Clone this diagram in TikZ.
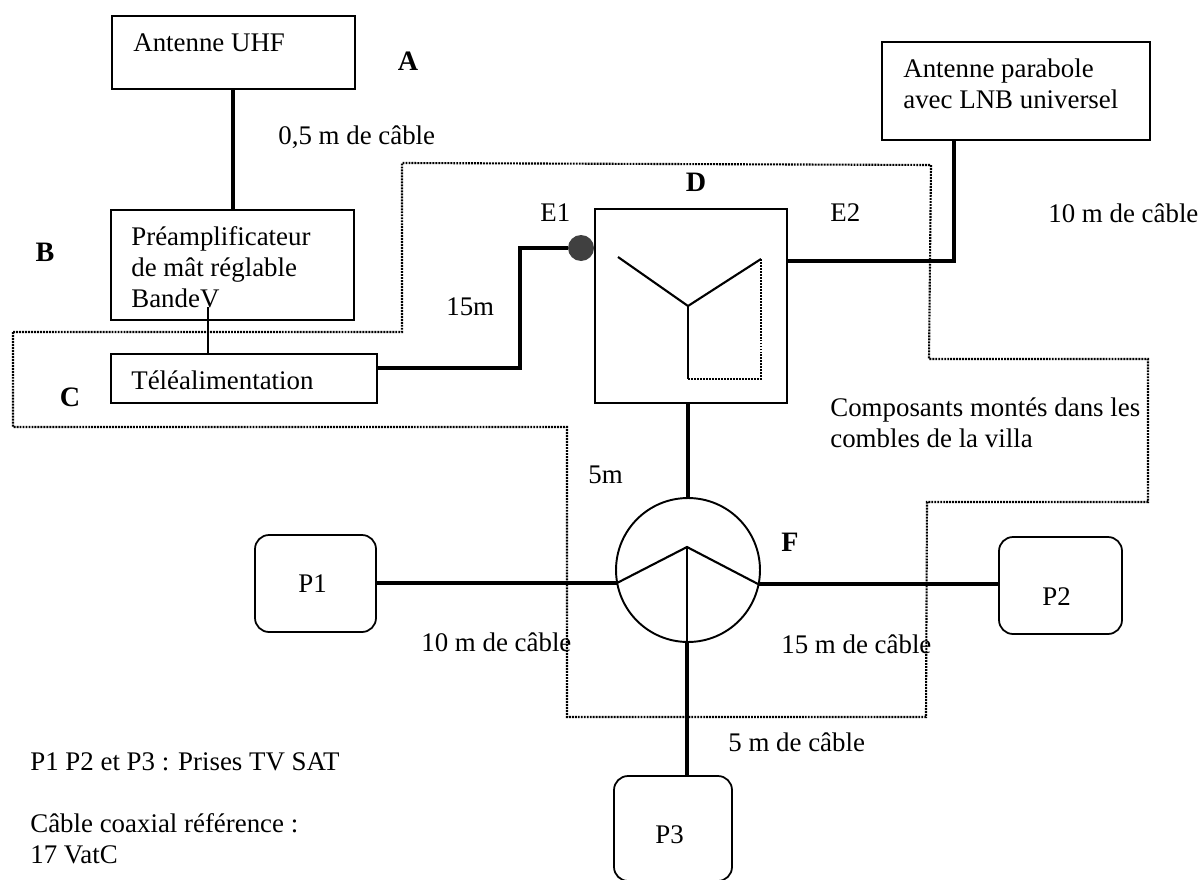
\documentclass[tikz,border=0pt]{standalone}
\usepackage{fontspec}
\setmainfont{Liberation Serif}
\usetikzlibrary{positioning}
\tikzset{
  boxnode/.style n args={2}{draw,line width=1pt,anchor=north west,inner sep=0pt,outer sep=0pt,minimum width=#1*0.02cm,minimum height=#2*0.02cm},
  priseTV/.style={boxnode={#1}{97},rounded corners=8pt},
  cable/.style={line width=1.8pt},
  fil/.style={line width=1.2pt},
  combles/.style={line width=1.2pt,dash pattern=on 1.1pt off 0.6pt},
  lbl/.style={anchor=west,inner sep=0pt,font=\fontsize{15.3}{17.5}\selectfont,align=left},
  repere/.style={inner sep=0pt,font=\fontsize{16}{18}\selectfont\bfseries}
}
\begin{document}
\begin{tikzpicture}[x=0.02cm,y=-0.02cm]
  \useasboundingbox (0,0) rectangle (1200,879);

  % Combles
  \draw[combles] (13,332) -- (402,332) -- (402,163) -- (931,165) -- (929,359) -- (1148,359)
    -- (1148,502) -- (927,502) -- (926,717) -- (567,717) -- (567,427) -- (13,427) -- cycle;

  % Antennes
  \node[boxnode={243}{73}] (antUHF) at (112,16) {};
  \node[lbl] (txtUHF) at (133,43) {Antenne UHF};
  \node[boxnode={268}{98}] (antSat) at (882,42) {};
  \node[lbl] (txtSat) at (903,84) {Antenne parabole\\avec LNB universel};

  % Preampli et telealimentation
  \node[boxnode={243}{110}] (preampli) at (111,210) {};
  \node[lbl] (txtPre) at (131,267) {Préamplificateur\\de mât réglable\\BandeV};
  \node[boxnode={266}{49}] (teleal) at (111,354) {};
  \node[lbl] (txtTele) at (131,380) {Téléalimentation};

  % Coupleur D
  \node[boxnode={192}{194}] (coupleur) at (595,209) {};
  \node[circle,fill=black!75,inner sep=0pt,minimum size=0.52cm] (entree) at (581,248) {};
  \coordinate (yG) at (618,257);
  \coordinate (yD) at (761,259);
  \coordinate (yM) at (688,306);
  \coordinate (yB) at (688,379);
  \draw[fil] (yG) -- (yM) -- (yD);
  \draw[fil] (yM) -- (yB);
  \draw[combles] (yB) -- (yD |- yB) -- (yD);

  % Repartiteur F
  \node[draw,circle,line width=1.1pt,inner sep=0pt,minimum size=2.88cm] (repart) at (688,570) {};
  \coordinate (rG) at (617,583);
  \coordinate (rH) at (687,547);
  \coordinate (rD) at (758,584);
  \draw[fil] (rG) -- (rH) -- (rD);
  \draw[fil] (rH) -- (rH |- repart.south);

  % Prises
  \node[priseTV={121}] (P1) at (255,535) {};
  \node[lbl] (txtP1) at (298,584) {P1};
  \node[priseTV={123}] (P2) at (999,537) {};
  \node[lbl] (txtP2) at (1042,597) {P2};
  \node[priseTV={118},minimum height=2.1cm] (P3) at (614,776) {};
  \node[lbl] (txtP3) at (655,835) {P3};

  % Cables
  \coordinate (colUHF) at (233,150);
  \coordinate (colTele) at (208,307);
  \coordinate (colE) at (520,300);
  \coordinate (ligTele) at (300,368);
  \coordinate (colSat) at (954,200);
  \coordinate (ligD) at (800,261);
  \draw[cable] (colUHF |- antUHF.south) -- (colUHF |- preampli.north);
  \draw[fil] (colTele) -- (colTele |- teleal.north);
  \draw[cable] (teleal.east |- ligTele) -- (colE |- ligTele) -- (colE |- entree.west) -- (entree.west);
  \draw[cable] (coupleur.east |- ligD) -- (colSat |- ligD) -- (colSat |- antSat.south);
  \draw[cable] (yM |- coupleur.south) -- (yM |- repart.north);
  \draw[cable] (P1.east |- rG) -- (rG);
  \draw[cable] (rD) -- (P2.west |- rD);
  \draw[cable] (rH |- repart.south) -- (rH |- P3.north);

  % Reperes
  \node[repere] (repA) at (408,61) {A};
  \node[repere] (repB) at (45,252) {B};
  \node[repere] (repC) at (70,397) {C};
  \node[repere] (repD) at (696,182) {D};
  \node[repere] (repF) at (790,542) {F};

  % Longueurs
  \node[lbl] (l05) at (278,137) {0,5 m de câble};
  \node[lbl] (lE1) at (540,213) {E1};
  \node[lbl] (lE2) at (830,213) {E2};
  \node[lbl] (l10s) at (1048,213) {10 m de câble};
  \node[lbl] (l15) at (446,307) {15m};
  \node[lbl] (l5) at (588,475) {5m};
  \node[lbl] (lComb) at (830,423) {Composants montés dans les\\combles de la villa};
  \node[lbl] (l10) at (421,642) {10 m de câble};
  \node[lbl] (l15c) at (781,644) {15 m de câble};
  \node[lbl] (l5c) at (728,742) {5 m de câble};

  % Legende
  \node[lbl] (leg1) at (30,762) {P1 P2 et P3 : Prises TV SAT};
  \node[lbl] (leg2) at (30,839) {Câble coaxial référence :\\17 VatC};
\end{tikzpicture}
\end{document}
